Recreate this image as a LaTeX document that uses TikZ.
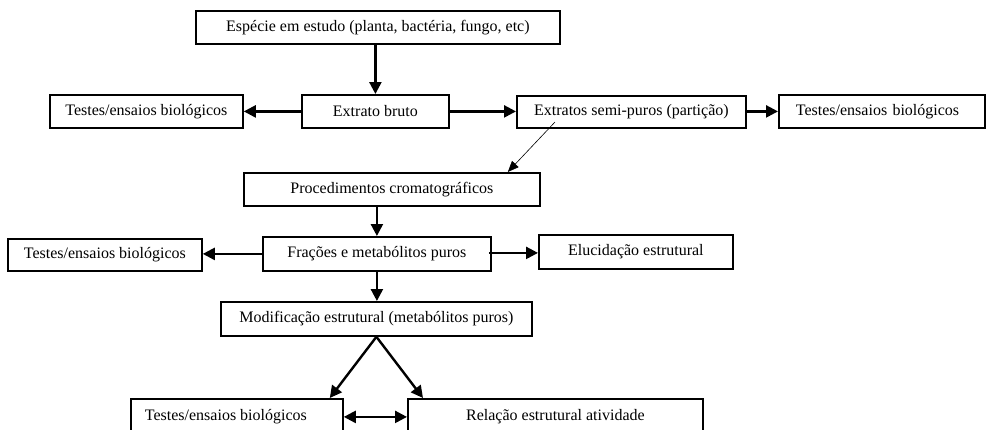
\documentclass[tikz,border=0pt]{standalone}
\usepackage{fontspec}
\setmainfont{Liberation Serif}
\usetikzlibrary{arrows.meta,calc}
\begin{document}
\begin{tikzpicture}[x=1bp,y=-1bp,
  box/.style={draw,line width=1.8bp,inner sep=0pt,anchor=north west,font=\fontsize{16bp}{19bp}\selectfont},
  arr/.style={line width=2.4bp,-{Triangle[length=12bp,width=12bp]}},
  darr/.style={line width=2.4bp,{Triangle[length=12bp,width=12bp]}-{Triangle[length=12bp,width=12bp]}},
  thin/.style={line width=0.6bp,-{Triangle[length=11bp,width=9bp]}}]
\useasboundingbox (0,0) rectangle (986,429);
\clip (0,0) rectangle (986,429);
\fill[white] (0,0) rectangle (986,429);
\node[box,minimum width=364bp,minimum height=33bp] (top) at (195,10) {Espécie em estudo (planta, bactéria, fungo, etc)};
\node[box,minimum width=193bp,minimum height=33bp] (tL) at (49,94) {Testes/ensaios biológicos};
\node[box,minimum width=147bp,minimum height=33bp] (eb) at (301,94) {Extrato bruto};
\node[box,minimum width=229bp,minimum height=32bp] (sp) at (516,95) {Extratos semi-puros (partição)};
\node[box,minimum width=206bp,minimum height=33bp,text width=206bp,align=left] (tR) at (778,94) {\hspace*{17bp}Testes/ensaios biológicos};
\node[box,minimum width=296bp,minimum height=33bp] (proc) at (243,172) {Procedimentos cromatográficos};
\node[box,minimum width=194bp,minimum height=32bp] (tL2) at (7,238) {Testes/ensaios biológicos};
\node[box,minimum width=228bp,minimum height=34bp] (fr) at (262,236) {Frações e metabólitos puros};
\node[box,minimum width=194bp,minimum height=34bp] (eluc) at (538,234) {Elucidação estrutural};
\node[box,minimum width=311bp,minimum height=34bp] (mod) at (220,301) {Modificação estrutural (metabólitos puros)};
\node[box,minimum width=212bp,minimum height=36bp,label={[font=\fontsize{16bp}{19bp}\selectfont,xshift=-11bp]center:Testes/ensaios biológicos}] (tB) at (130,398) {};
\node[box,minimum width=295bp,minimum height=36bp] (rel) at (407,398) {Relação estrutural atividade};
\coordinate (spin) at (555,122);
\draw[arr] (top.south -| eb.north) -- (eb.north);
\draw[arr] (eb.west) -- (tL.east);
\draw[arr] (eb.east) -- (sp.west |- eb.east);
\draw[arr] (sp.east |- tR.west) -- (tR.west);
\draw[thin] (spin) -- ($(proc.north east)+(-33,0)$);
\draw[arr] (proc.south -| fr.north) -- (fr.north);
\draw[arr] (fr.west) -- (tL2.east |- fr.west);
\draw[arr] ($(fr.east)+(-3,-1)$) -- (eluc.west |- {$(fr.east)+(0,-1)$});
\draw[arr] (fr.south) -- (fr.south |- mod.north);
\draw[arr] (mod.south) -- ($(tB.north east)+(-14,0)$);
\draw[arr] (mod.south) -- ($(rel.north west)+(16,0)$);
\draw[darr] (tB.east) -- (rel.west);
\end{tikzpicture}
\end{document}
